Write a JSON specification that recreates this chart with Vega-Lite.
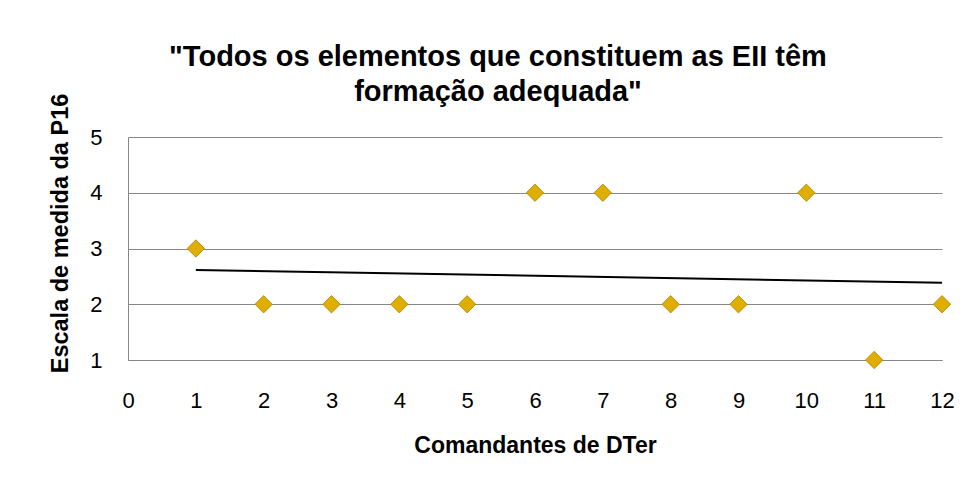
{
  "$schema": "https://vega.github.io/schema/vega-lite/v6.json",
  "width": 814,
  "height": 223,
  "autosize": {"type": "none"},
  "padding": {"left": 128, "top": 137, "right": 29, "bottom": 129},
  "background": "white",
  "config": {
    "font": "Liberation Sans",
    "view": {"stroke": null},
    "axis": {"grid": true, "gridColor": "#878787", "gridWidth": 1, "domainColor": "#878787", "domainWidth": 1, "ticks": false, "tickSize": 0, "labelColor": "#000000", "titleColor": "#000000", "labelFont": "Liberation Sans", "titleFont": "Liberation Sans"}
  },
  "title": {
    "text": ["\"Todos os elementos que constituem as EII têm", "formação adequada\""],
    "font": "Liberation Sans",
    "fontSize": 29,
    "fontWeight": "bold",
    "color": "#000000",
    "lineHeight": 35,
    "anchor": "middle",
    "frame": "group",
    "dx": -37,
    "offset": -14
  },
  "data": {
    "values": [
      {"comandante": 1, "escala": 3},
      {"comandante": 2, "escala": 2},
      {"comandante": 3, "escala": 2},
      {"comandante": 4, "escala": 2},
      {"comandante": 5, "escala": 2},
      {"comandante": 6, "escala": 4},
      {"comandante": 7, "escala": 4},
      {"comandante": 8, "escala": 2},
      {"comandante": 9, "escala": 2},
      {"comandante": 10, "escala": 4},
      {"comandante": 11, "escala": 1},
      {"comandante": 12, "escala": 2}
    ]
  },
  "layer": [
    {
      "mark": {"type": "point", "shape": "diamond", "filled": true, "size": 300, "color": "#E0AE00", "stroke": "#A88400", "strokeWidth": 0.8, "opacity": 1},
      "encoding": {
        "x": {
          "field": "comandante", "type": "quantitative",
          "scale": {"domain": [0, 12], "nice": false, "zero": false},
          "axis": {
            "title": "Comandantes de DTer",
            "values": [0,1,2,3,4,5,6,7,8,9,10,11,12],
            "format": "d",
            "grid": false,
            "labelFontSize": 22,
            "labelBaseline": "middle",
            "labelPadding": 40,
            "labelFlush": false,
            "labelOverlap": false,
            "titleFontSize": 23,
            "titleFontWeight": "bold",
            "titleBaseline": "middle",
            "titleY": 85,
            "titleX": 407,
            "titleAnchor": null
          }
        },
        "y": {
          "field": "escala", "type": "quantitative",
          "scale": {"domain": [1, 5], "nice": false, "zero": false},
          "axis": {
            "title": "Escala de medida da P16",
            "values": [1,2,3,4,5],
            "format": "d",
            "labelFontSize": 22,
            "labelPadding": 26,
            "labelFlush": false,
            "labelOverlap": false,
            "titleFontSize": 23.5,
            "titleFontWeight": "bold",
            "titleAngle": -90,
            "titleBaseline": "middle",
            "titleAlign": "center",
            "titleX": -68,
            "titleY": 96
          }
        }
      }
    },
    {
      "transform": [{"regression": "escala", "on": "comandante"}],
      "mark": {"type": "line", "color": "#000000", "strokeWidth": 2},
      "encoding": {
        "x": {"field": "comandante", "type": "quantitative"},
        "y": {"field": "escala", "type": "quantitative"}
      }
    }
  ]
}
